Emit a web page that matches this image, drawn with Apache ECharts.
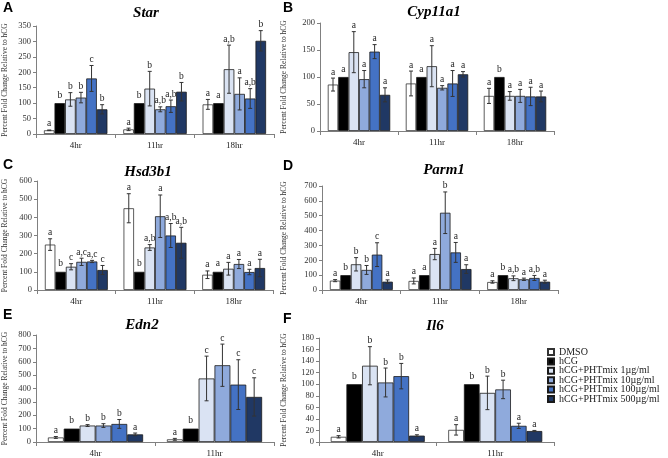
<!DOCTYPE html>
<html><head><meta charset="utf-8">
<script src="https://cdn.jsdelivr.net/npm/echarts@6/dist/echarts.min.js"></script>
<style>html,body{margin:0;padding:0;background:#fff}#c{width:668px;height:458px}</style>
</head><body><div id="c"></div>
<script>
// ---------- data ----------
const groups = ['DMSO','hCG','hCG+PHTmix 1µg/ml','hCG+PHTmix 10µg/ml','hCG+PHTmix 100µg/ml','hCG+PHTmix 500µg/ml'];
const times3 = ['4hr','11hr','18hr'];
const times2 = ['4hr','11hr'];
const yName = 'Percent Fold Change Relative to hCG';

// rows = time points, columns = groups
const starMean = [[12,100,112,118,180,80],[15,100,147,80,90,137],[96,100,210,130,115,302]];
const starErr  = [[1,0,22,17,42,15],[4,0,56,8,20,30],[16,0,78,52,32,33]];
const starSig  = [['a','b','b','b','c','b'],['a','b','b','a,b','a,b','b'],['a','a','a,b','a','a,b','b']];

const cypMean = [[86,100,146,96,147,67],[88,100,120,80,88,105],[65,100,65,65,64,64]];
const cypErr  = [[12,0,38,16,13,13],[23,0,38,4,24,5],[14,0,8,12,17,10]];
const cypSig  = [['a','a','a','a','a','a'],['a','a','a','a','a','a'],['a','b','a','a','a','a']];

const hsdMean = [[250,100,128,155,157,110],[450,100,234,406,300,260],[84,100,117,143,99,121]];
const hsdErr  = [[32,0,17,20,6,25],[80,0,16,117,66,85],[21,0,35,25,15,48]];
const hsdSig  = [['a','b','c','a,c','a,c','c'],['a','b','a,b','a','a,b','a,b'],['a','a','a','a','a','a']];

const parmMean = [[63,100,173,135,238,56],[61,100,242,520,253,141],[54,100,79,72,81,56]];
const parmErr  = [[7,0,45,30,80,12],[20,0,38,140,67,29],[8,0,16,8,17,10]];
const parmSig  = [['a','b','b','b','c','a'],['a','a','a','b','a','a'],['a','b','a,b','a','a,b','a']];

const ednMean = [[34,100,123,123,135,57],[20,100,475,574,429,337]];
const ednErr  = [[7,0,7,14,33,10],[7,0,167,158,186,143]];
const ednSig  = [['a','b','b','b','b','a'],['a','b','c','c','c','c']];

const il6Mean = [[9,100,132,103,114,11],[21,100,85,91,28,19]];
const il6Err  = [[2,0,33,25,22,1.5],[9,0,29,16,4.5,1]];
const il6Sig  = [['a','b','b','b','b','a'],['a','b','b','b','a','a']];

// ---------- layout / style ----------
const colors = ['#ffffff','#000000','#dae3f3','#8faadc','#4472c4','#203864'];
const panels = [
  {tag:'A', title:'Star',    cats:times3, mean:starMean, err:starErr, sig:starSig, max:350, step:50,
   grid:{left:36,top:26,width:238,height:108}, tagPos:[3,1], titlePos:[146,13], nameGap:27},
  {tag:'B', title:'Cyp11a1', cats:times3, mean:cypMean, err:cypErr, sig:cypSig, max:200, step:50,
   grid:{left:320,top:23,width:234,height:108}, tagPos:[283,1], titlePos:[434,12], nameGap:32},
  {tag:'C', title:'Hsd3b1',  cats:times3, mean:hsdMean, err:hsdErr, sig:hsdSig, max:600, step:100,
   grid:{left:36,top:181,width:237,height:109}, tagPos:[3,158], titlePos:[148,172], nameGap:28},
  {tag:'D', title:'Parm1',   cats:times3, mean:parmMean, err:parmErr, sig:parmSig, max:700, step:100,
   grid:{left:322,top:186,width:236,height:104}, tagPos:[283,159], titlePos:[444,170], nameGap:34},
  {tag:'E', title:'Edn2',    cats:times2, mean:ednMean, err:ednErr, sig:ednSig, max:800, step:100,
   grid:{left:35,top:335,width:239,height:108}, tagPos:[3,308], titlePos:[142,325], nameGap:27},
  {tag:'F', title:'Il6',     cats:times2, mean:il6Mean, err:il6Err, sig:il6Sig, max:180, step:20,
   grid:{left:319,top:338,width:235,height:106}, tagPos:[283,312], titlePos:[435,326], nameGap:31}
];

const SERIF = '"Liberation Serif", "Times New Roman", serif';
const axisGray = '#808080';

const grids = [], xAxes = [], yAxes = [], series = [], graphics = [];

panels.forEach((p, k) => {
  grids.push(Object.assign({containLabel:false}, p.grid));
  xAxes.push({
    type:'category', gridIndex:k, data:p.cats,
    axisLine:{lineStyle:{color:axisGray,width:1}},
    axisTick:{show:true,length:4,lineStyle:{color:axisGray}},
    axisLabel:{fontSize:9,color:'#222',fontFamily:SERIF,margin:7}
  });
  yAxes.push({
    type:'value', gridIndex:k, min:0, max:p.max, interval:p.step,
    name:yName, nameLocation:'middle', nameGap:p.nameGap,
    nameTextStyle:{fontSize:7.5,color:'#333',fontFamily:SERIF},
    axisLine:{show:true,lineStyle:{color:axisGray,width:1}},
    axisTick:{show:true,length:3,lineStyle:{color:axisGray}},
    splitLine:{show:false},
    axisLabel:{fontSize:8.5,color:'#333',fontFamily:SERIF,margin:5}
  });
  groups.forEach((g, gi) => {
    series.push({
      type:'bar', name:g, xAxisIndex:k, yAxisIndex:k,
      barGap:'0%', barCategoryGap:'20%',
      data:p.cats.map((c, t) => p.mean[t][gi]),
      itemStyle:{color:colors[gi], borderColor: gi===0 ? '#333' : '#1a1a1a', borderWidth:0.8},
      z:2
    });
  });
  const ebData = [];
  p.cats.forEach((c, t) => groups.forEach((g, gi) => ebData.push([t, gi, p.mean[t][gi], p.err[t][gi]])));
  series.push({
    type:'custom', xAxisIndex:k, yAxisIndex:k, z:5, clip:false,
    data:ebData,
    renderItem:function(params, api){
      const t = api.value(0), gi = api.value(1), m = api.value(2), e = api.value(3);
      const band = api.size([1,0])[0];
      const bw = band*0.8/6;
      const cx = api.coord([t,0])[0] - band*0.4 + bw*(gi+0.5);
      const yTop = api.coord([t, m+e])[1];
      const yBot = api.coord([t, m-e])[1];
      const ch = [];
      if (e > 0){
        const st = {stroke:'#333', lineWidth:1};
        ch.push({type:'line', shape:{x1:cx,y1:yTop,x2:cx,y2:yBot}, style:st});
        ch.push({type:'line', shape:{x1:cx-2,y1:yTop,x2:cx+2,y2:yTop}, style:st});
        ch.push({type:'line', shape:{x1:cx-2,y1:yBot,x2:cx+2,y2:yBot}, style:st});
      }
      ch.push({type:'text', style:{
        text:p.sig[t][gi], x:cx, y:yTop - (e>0 ? 1 : 3),
        align:'center', verticalAlign:'bottom', textAlign:'center', textVerticalAlign:'bottom',
        font:'9.5px ' + SERIF, fill:'#222'}});
      return {type:'group', children:ch};
    }
  });
  graphics.push({type:'text', left:p.tagPos[0], top:p.tagPos[1],
    style:{text:p.tag, font:'bold 14px "Liberation Sans", Arial, sans-serif', fill:'#000'}});
  graphics.push({type:'text', x:p.titlePos[0], y:p.titlePos[1],
    style:{text:p.title, x:0, y:0, align:'center', verticalAlign:'middle', textAlign:'center', textVerticalAlign:'middle',
      font:'italic bold 15px ' + SERIF, fill:'#000'}});
});

const chart = echarts.init(document.getElementById('c'), null, {renderer:'canvas'});
chart.setOption({
  animation:false,
  backgroundColor:'#fff',
  grid:grids, xAxis:xAxes, yAxis:yAxes, series:series,
  legend:{
    data:groups, orient:'vertical', left:547, top:347, padding:0,
    icon:'rect', itemWidth:6, itemHeight:6, itemGap:-0.6,
    textStyle:{fontSize:10, fontFamily:SERIF, color:'#222', lineHeight:9},
    selectedMode:false
  },
  graphic:graphics
});
</script></body></html>
